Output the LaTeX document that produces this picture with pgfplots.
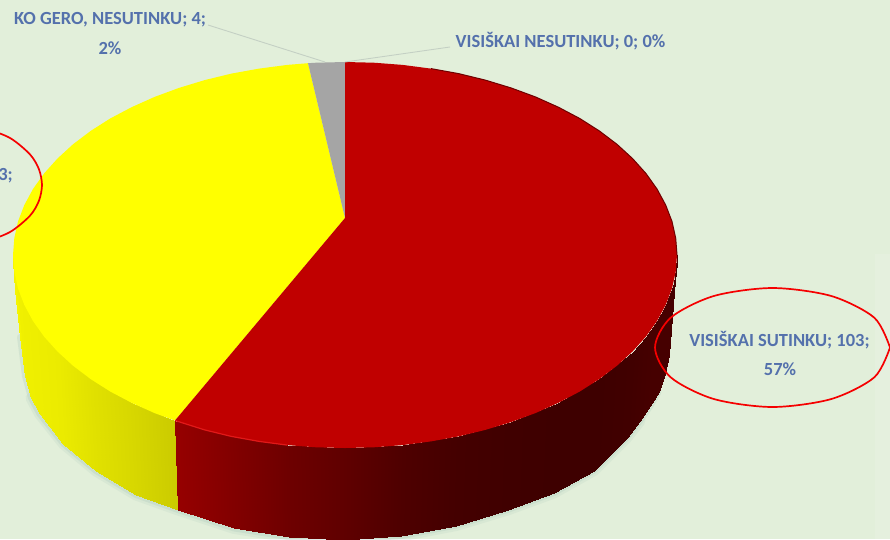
\documentclass[border=0pt]{standalone}
\usepackage{fontspec}
\setmainfont{Carlito}
\usepackage{pgfplots}
\pgfplotsset{compat=1.18}
\usepgfplotslibrary{patchplots}
\definecolor{bgc}{RGB}{226,239,218}
\definecolor{panelc}{RGB}{229,240,222}
\definecolor{labelc}{RGB}{84,113,172}
\definecolor{leaderc}{RGB}{196,208,196}
\definecolor{shadowc}{RGB}{150,185,175}
\definecolor{piered}{RGB}{192,0,0}
\definecolor{pieyellow}{RGB}{255,255,0}
\definecolor{piegray}{RGB}{165,165,165}
\definecolor{rimred}{RGB}{225,25,25}
\definecolor{backedge}{RGB}{110,0,0}
\definecolor{ringred}{RGB}{245,0,0}
\newcommand{\lab}{\fontsize{18.5}{18.5}\selectfont\bfseries\color{labelc}}

\begin{document}
\begin{tikzpicture}
\begin{axis}[
  scale only axis, width=890pt, height=539pt,
  xmin=0, xmax=890, ymin=0, ymax=539, y dir=reverse,
  hide axis,
  colormap={pie}{rgb255(0)=(0,0,0) rgb255(255)=(255,0,0) rgb255(300)=(0,0,0) rgb255(555)=(255,255,0)},
  point meta min=0, point meta max=555,
]
% background and side panel
\addplot[fill=bgc,draw=none] coordinates {(0,0)(890,0)(890,539)(0,539)} -- cycle;
\addplot[fill=panelc,draw=none] coordinates {(875,254)(890,254)(890,539)(875,539)} -- cycle;

% soft shadow under the pie
\addplot[draw=shadowc,opacity=.12,line width=11pt,line cap=round] coordinates
  {(31,398)(39.6,414)(63.5,444)(96,471)(136,495)(178,510)(233.8,528.4)(288.6,537.1)(345,540)(401.4,536)(456.2,525.5)(507.5,510)(553.9,493)(594,470.5)(626.5,438)(640,421)};
\addplot[draw=shadowc,opacity=.2,line width=6pt,line cap=round] coordinates
  {(20,337)(25,376)(31,398)(39.6,414)(63.5,444)(96,471)(136,495)(178,510)(233.8,528.4)(288.6,537.1)(345,540)(401.4,536)(456.2,525.5)(507.5,510)(553.9,493)(594,470.5)(626.5,438)(640,421)(650.4,406)(658.5,392)};

% side wall: rim point, next rim point, next bottom point, bottom point; meta = red or 300+green level
\addplot[patch,patch type=rectangle,shader=interp,point meta=explicit] table[meta=c] {
x y c
13 255 545
13.3 262 545
15 290 545
13 255 545
13.3 262 545
14.3 271.8 544
20 337 544
15 290 545
14.3 271.8 544
18 288.5 540
25 376 540
20 337 544
18 288.5 540
24.3 304.9 539
31 398 539
25 376 540
24.3 304.9 539
33 321 538
39.6 414 538
31 398 539
33 321 538
57.5 351.5 535
63.5 444 535
39.6 414 538
57.5 351.5 535
90.7 379.1 525
96 471 525
63.5 444 535
90.7 379.1 525
131.6 402.8 515
136 495 515
96 471 525
131.6 402.8 515
175 420.5 503
178 510 503
136 495 515
175 420.5 150
231.4 436.4 130
233.8 528.4 130
178 510 150
231.4 436.4 130
287.3 445.1 110
288.6 537.1 110
233.8 528.4 130
287.3 445.1 110
345 448 95
345 540 95
288.6 537.1 110
345 448 95
402.7 445.1 78
401.4 536 78
345 540 95
402.7 445.1 78
458.6 436.4 68
456.2 525.5 68
401.4 536 78
458.6 436.4 68
511 422.1 64
507.5 510 64
456.2 525.5 68
511 422.1 64
558.4 402.8 62
553.9 493 62
507.5 510 64
558.4 402.8 62
599.3 379.1 62
594 470.5 62
553.9 493 62
599.3 379.1 62
632.5 351.5 65
626.5 438 65
594 470.5 62
632.5 351.5 65
645.9 336.6 68
640 421 68
626.5 438 65
645.9 336.6 68
657 321 70
650.4 406 70
640 421 68
657 321 70
665.7 304.9 70
658.5 392 70
650.4 406 70
665.7 304.9 70
668 299 70
665 374 70
658.5 392 70
668 299 70
672 288.5 70
668.8 355 70
665 374 70
672 288.5 70
674.5 280 70
672 303 70
668.8 355 70
674.5 280 70
675.7 271.8 70
674 283 70
672 303 70
675.7 271.8 70
676.5 262 70
675.5 270 70
674 283 70
676.5 262 70
677 255 70
677 255 70
675.5 270 70
};

% top face
\addplot[fill=pieyellow,draw=none] coordinates {(345,218)(175,420.5)(154.6,413.1)(131.6,402.8)(110.2,391.5)(90.7,379.1)(73,365.7)(57.5,351.5)(44.1,336.6)(33,321)(24.3,304.9)(18,288.5)(14.3,271.8)(13,255)(14.3,238.2)(18,221.5)(24.3,205.1)(33,189)(44.1,173.4)(57.5,158.5)(73,144.3)(90.7,130.9)(110.2,118.5)(131.6,107.2)(154.6,96.9)(179,87.9)(204.7,80.1)(231.4,73.6)(259.1,68.6)(287.3,64.9)(308,63.2)} -- cycle;
\addplot[fill=piegray,draw=none] coordinates {(345,218)(308,63.2)(316.1,62.7)(345,62)} -- cycle;
\addplot[fill=piered,draw=none] coordinates {(345,218)(345,62)(373.9,62.7)(402.7,64.9)(430.9,68.6)(458.6,73.6)(485.3,80.1)(511,87.9)(535.4,96.9)(558.4,107.2)(579.8,118.5)(599.3,130.9)(617,144.3)(632.5,158.5)(645.9,173.4)(657,189)(665.7,205.1)(672,221.5)(675.7,238.2)(677,255)(675.7,271.8)(672,288.5)(665.7,304.9)(657,321)(645.9,336.6)(632.5,351.5)(617,365.7)(599.3,379.1)(579.8,391.5)(558.4,402.8)(535.4,413.1)(511,422.1)(485.3,429.9)(458.6,436.4)(430.9,441.4)(402.7,445.1)(373.9,447.3)(345,448)(316.1,447.3)(287.3,445.1)(259.1,441.4)(231.4,436.4)(204.7,429.9)(175,420.5)} -- cycle;

% rim highlight, dark back edge
\addplot[rimred,line width=1.2pt] coordinates {(175,420.5)(204.7,429.9)(231.4,436.4)(259.1,441.4)(287.3,445.1)};
\addplot[draw=backedge,line width=1pt] coordinates {(430.9,68.6)(458.6,73.6)(485.3,80.1)(511,87.9)(535.4,96.9)(558.4,107.2)(579.8,118.5)(599.3,130.9)(617,144.3)(632.5,158.5)(645.9,173.4)(657,189)(665.7,205.1)(672,221.5)(675.7,238.2)(677,255)};

% leader lines
\addplot[leaderc,line width=.9pt] coordinates {(208,25)(325,62)};
\addplot[leaderc,line width=.9pt] coordinates {(345,62)(450,47)};

% red rings
\addplot[ringred,line width=1.7pt,smooth] coordinates {(890,347.5)(874.3,377.3)(831.3,399)(772.5,407)(713.8,399)(670.7,377.3)(655,347.5)(670.7,317.7)(713.8,296)(772.5,288)(831.3,296)(874.3,317.7)(890,347.5)};
\addplot[ringred,line width=1.7pt,smooth] coordinates {(-17.2,127.2)(9.9,137.9)(29.9,154.3)(38.9,169.1)(42,185)(38.9,200.9)(29.9,215.8)(9.9,232.1)(-17.2,242.8)};

% data labels
\node[anchor=center] at (axis cs:110,20) {\lab KO GERO, NESUTINKU; 4;};
\node[anchor=center] at (axis cs:110,48) {\lab 2\%};
\node[anchor=center] at (axis cs:560.5,41) {\lab VISIŠKAI NESUTINKU; 0; 0\%};
\node[anchor=center] at (axis cs:779.5,340) {\lab VISIŠKAI SUTINKU; 103;};
\node[anchor=center] at (axis cs:780,369) {\lab 57\%};
\node[anchor=east,inner sep=0pt] at (axis cs:13,176) {\lab 3;};
\end{axis}
\pgfresetboundingbox
\path[use as bounding box] (0,0) rectangle (890pt,539pt);
\end{tikzpicture}
\end{document}
